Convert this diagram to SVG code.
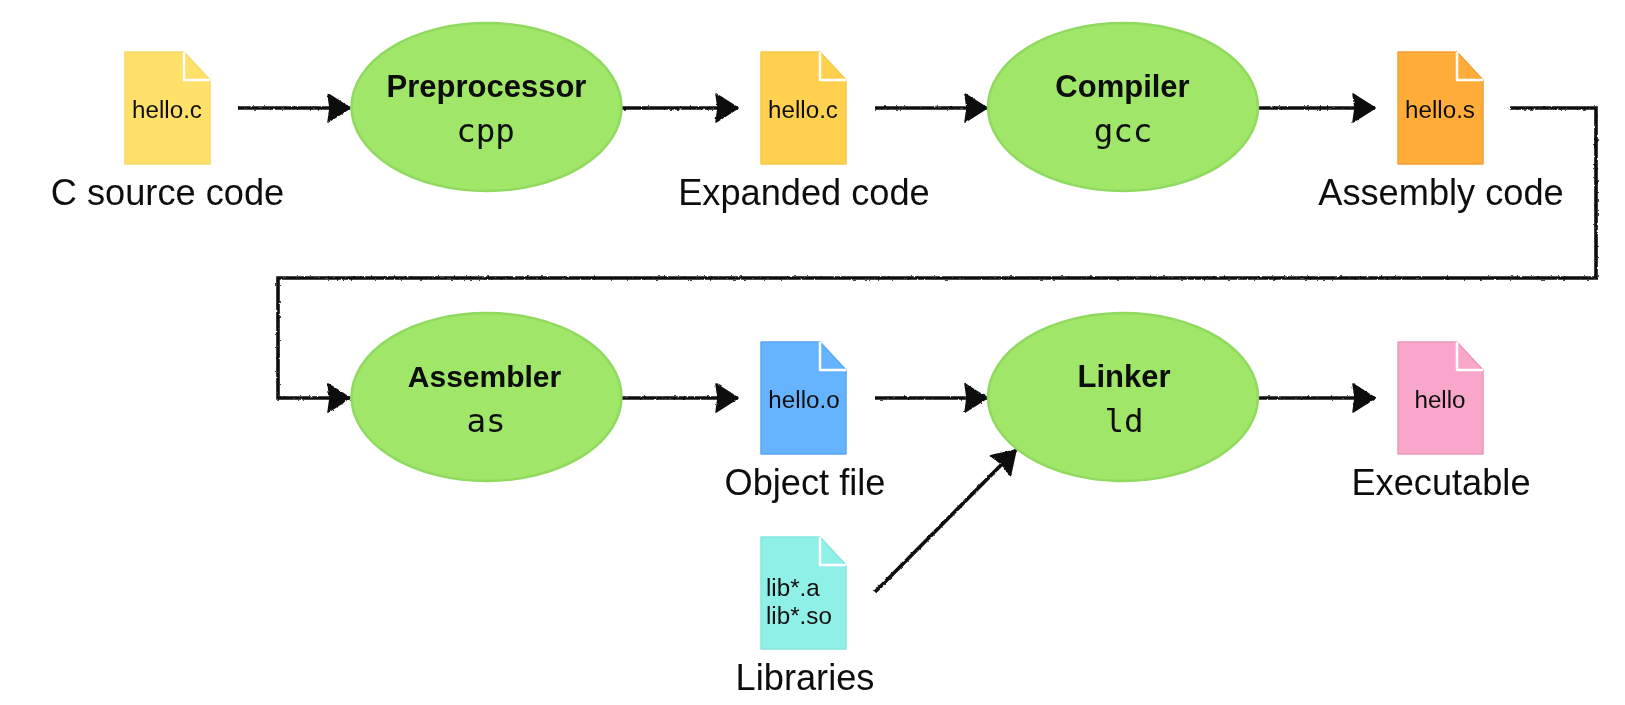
<svg xmlns="http://www.w3.org/2000/svg" width="1625" height="705" viewBox="0 0 1625 705">
<style>
.sheet{stroke-width:1.5;stroke-linejoin:round}
.fold{stroke:#fff;stroke-width:2.5;stroke-linejoin:round;fill:none}
.oval{fill:#9fe669;stroke:#8fd95f;stroke-width:2.5}
.lbl{font-family:"Liberation Sans",Arial,sans-serif;font-size:36.2px;fill:#111;text-anchor:middle}
.file{font-family:"Liberation Sans",Arial,sans-serif;font-size:24.2px;fill:#111;text-anchor:middle}
.libf{font-family:"Liberation Sans",Arial,sans-serif;font-size:24.2px;fill:#111}
.title{font-family:"Liberation Sans",Arial,sans-serif;font-size:31px;font-weight:700;fill:#0a0a0a;text-anchor:middle}
.cmd{font-family:"DejaVu Sans Mono",monospace;font-size:32.5px;fill:#111;text-anchor:middle}
.wire{fill:none;stroke:#111;stroke-width:3.6;stroke-linejoin:miter;stroke-linecap:butt}
</style>
<defs>
<marker id="head" markerUnits="userSpaceOnUse" markerWidth="26" markerHeight="32" refX="23" refY="15" orient="auto">
<path d="M1 1L23 15L1 29L3 15Z" fill="#0c0c0c" stroke="#0c0c0c" stroke-width="1.500" stroke-linejoin="round"/>
</marker>
<filter id="rough" x="0" y="0" width="1625" height="705" filterUnits="userSpaceOnUse">
<feTurbulence type="fractalNoise" baseFrequency="0.3" numOctaves="2" seed="4"/>
<feDisplacementMap in="SourceGraphic" scale="2.5" xChannelSelector="R" yChannelSelector="G"/>
</filter>
<filter id="soft" x="0" y="0" width="1625" height="705" filterUnits="userSpaceOnUse">
<feGaussianBlur stdDeviation="0.4"/>
</filter>
<path id="page" d="M0 0H59L85 28V112H0Z"/>
<path id="flap" d="M59 0V28H85"/>
</defs>

<g filter="url(#soft)">
<g id="connectors" filter="url(#rough)">
<path class="wire" marker-end="url(#head)" d="M238 108H350"/>
<path class="wire" marker-end="url(#head)" d="M622 108H738"/>
<path class="wire" marker-end="url(#head)" d="M875 108H987"/>
<path class="wire" marker-end="url(#head)" d="M1259 108H1375"/>
<path class="wire" marker-end="url(#head)" d="M1510 108H1596V278H278V398H350"/>
<path class="wire" marker-end="url(#head)" d="M622 398H738"/>
<path class="wire" marker-end="url(#head)" d="M875 398H987"/>
<path class="wire" marker-end="url(#head)" d="M1259 398H1375"/>
<path class="wire" marker-end="url(#head)" d="M875 592L1016 450"/>
</g>

<g id="file-source" transform="translate(125 52)">
<use href="#page" class="sheet" fill="#ffe16b" stroke="#f9d968"/><use href="#flap" class="fold"/>
<text class="file" x="42" y="66">hello.c</text>
</g>
<text class="lbl" x="167.500" y="205">C source code</text>

<g id="preprocessor">
<ellipse class="oval" cx="486.500" cy="107" rx="135" ry="84"/>
<text class="title" x="486.500" y="97">Preprocessor</text>
<text class="cmd" x="485.500" y="142">cpp</text>
</g>

<g id="file-expanded" transform="translate(761 52)">
<use href="#page" class="sheet" fill="#ffd14f" stroke="#f6c84a"/><use href="#flap" class="fold"/>
<text class="file" x="42" y="66">hello.c</text>
</g>
<text class="lbl" x="804" y="205">Expanded code</text>

<g id="compiler">
<ellipse class="oval" cx="1123" cy="107" rx="135" ry="84"/>
<text class="title" x="1122.500" y="97">Compiler</text>
<text class="cmd" x="1123" y="142">gcc</text>
</g>

<g id="file-assembly" transform="translate(1398 52)">
<use href="#page" class="sheet" fill="#ffad38" stroke="#f0a035"/><use href="#flap" class="fold"/>
<text class="file" x="42" y="66">hello.s</text>
</g>
<text class="lbl" x="1441" y="205">Assembly code</text>

<g id="assembler">
<ellipse class="oval" cx="486.500" cy="397" rx="135" ry="84"/>
<text class="title" x="484.500" y="387" style="font-size:30px">Assembler</text>
<text class="cmd" x="486" y="432">as</text>
</g>

<g id="file-object" transform="translate(761 342)">
<use href="#page" class="sheet" fill="#66b3ff" stroke="#5aa8f2"/><use href="#flap" class="fold"/>
<text class="file" x="43" y="66">hello.o</text>
</g>
<text class="lbl" x="805" y="495">Object file</text>

<g id="linker">
<ellipse class="oval" cx="1123" cy="397" rx="135" ry="84"/>
<text class="title" x="1124" y="387">Linker</text>
<text class="cmd" x="1124" y="432">ld</text>
</g>

<g id="file-executable" transform="translate(1398 342)">
<use href="#page" class="sheet" fill="#f8a6c9" stroke="#ec98bd"/><use href="#flap" class="fold"/>
<text class="file" x="42" y="66">hello</text>
</g>
<text class="lbl" x="1441" y="495">Executable</text>

<g id="file-libraries" transform="translate(761 537)">
<use href="#page" class="sheet" fill="#8ff0e8" stroke="#86e6de"/><use href="#flap" class="fold"/>
<text class="libf" x="5" y="59">lib*.a</text>
<text class="libf" x="5" y="87">lib*.so</text>
</g>
<text class="lbl" x="805" y="690">Libraries</text>
</g>
</svg>
